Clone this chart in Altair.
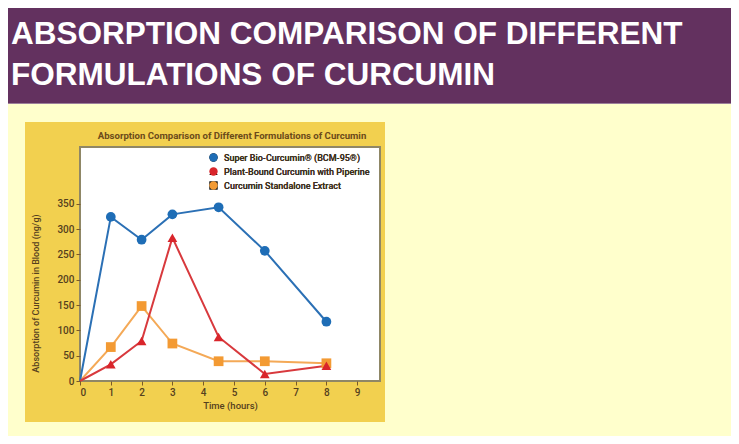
import altair as alt
import pandas as pd

# ---- data ----
time_hours = [0, 1, 2, 3, 4.5, 6, 8]
bcm95 = [0, 324, 279, 329, 343, 257, 117]
piperine = [0, 33, 79, 283, 87, 14, 30]
standalone = [0, 67, 148, 74, 39, 39, 35]

series_names = [
    "Super Bio-Curcumin® (BCM-95®)",
    "Plant-Bound Curcumin with Piperine",
    "Curcumin Standalone Extract",
]
marker_colors = ["#1E6DB6", "#D9252B", "#F39A33"]
line_colors = ["#2B70B5", "#D8393D", "#F4A957"]
shapes = ["circle", "triangle-up", "square"]

x_ticks = list(range(10))
y_ticks = [0, 50, 100, 150, 200, 250, 300, 350]

page_title = ["ABSORPTION COMPARISON OF DIFFERENT", "FORMULATIONS OF CURCUMIN"]
chart_title = "Absorption Comparison of Different Formulations of Curcumin"
x_title = "Time (hours)"
y_title = "Absorption of Curcumin in Blood (ng/g)"

rows = []
# drawing order: standalone first, then BCM-95, then piperine on top
for idx in [2, 0, 1]:
    name = series_names[idx]
    vals = [bcm95, piperine, standalone][idx]
    for t, v in zip(time_hours, vals):
        rows.append({"series": name, "time": t, "value": v})
df = pd.DataFrame(rows)

NARROW = "Roboto, sans-serif"
BROWN = "#55401E"
one = alt.Data(values=[{"k": 1}])

x_enc = alt.X(
    "time:Q",
    scale=alt.Scale(domain=[0, 9.74], nice=False, zero=True),
    axis=alt.Axis(
        values=x_ticks, domain=False, grid=False, tickSize=4, tickColor="#7A5A28",
        labelColor=BROWN, labelFont=NARROW, labelFontSize=10, labelFontWeight=500,
        labelPadding=2,
        title=x_title, titleFont=NARROW, titleFontSize=9.5, titleFontWeight=500,
        titleColor=BROWN, titlePadding=3, zindex=1,
    ),
)
y_enc = alt.Y(
    "value:Q",
    scale=alt.Scale(domain=[0, 462], nice=False, zero=True),
    axis=alt.Axis(
        values=y_ticks, domain=False, grid=False, tickSize=4, tickColor="#7A5A28",
        labelColor=BROWN, labelFont=NARROW, labelFontSize=10, labelFontWeight=500,
        labelPadding=2,
        title=y_title, titleFont=NARROW, titleFontSize=9, titleFontWeight=500,
        titleColor=BROWN, titleAngle=270, titleX=-45, titleY=146, titleAlign="center",
        titleBaseline="middle", zindex=1,
    ),
)

header = alt.Chart(one).mark_rect(color="#63315F").encode(
    x=alt.value(-80), x2=alt.value(660), y=alt.value(-142), y2=alt.value(-44)
)
header_line = alt.Chart(one).mark_rect(color="#9C7F9A").encode(
    x=alt.value(-80), x2=alt.value(660), y=alt.value(-44), y2=alt.value(-43)
)
header_text = alt.Chart(alt.Data(values=[{"t": page_title}])).mark_text(
    align="left", baseline="alphabetic", font="Liberation Sans", fontWeight="bold",
    fontSize=31.5, color="white", lineHeight=41,
).encode(text="t:N", x=alt.value(-69), y=alt.value(-103))

gold = alt.Chart(one).mark_rect(color="#F2D04F").encode(
    x=alt.value(-55), x2=alt.value(305), y=alt.value(-25), y2=alt.value(275)
)
plot_bg = alt.Chart(one).mark_rect(color="white", stroke="#8F8766", strokeWidth=2).encode(
    x=alt.value(0), x2=alt.value(300), y=alt.value(0), y2=alt.value(234)
)
inner_title = alt.Chart(alt.Data(values=[{"t": chart_title}])).mark_text(
    font=NARROW, fontSize=9.6, fontWeight="bold", color="#6B4A1A",
    align="center", baseline="middle",
).encode(text="t:N", x=alt.value(152), y=alt.value(-11.5))

lines = alt.Chart(df).mark_line(strokeWidth=2).encode(
    x=x_enc, y=y_enc,
    color=alt.Color("series:N", scale=alt.Scale(domain=series_names, range=line_colors), legend=None),
)

legend = alt.Legend(
    title=None, orient="none", legendX=129, legendY=6, padding=0,
    symbolSize=70, labelFont=NARROW, labelFontSize=9, labelFontWeight=500,
    labelColor="#3E3020", labelOffset=6, rowPadding=4, symbolStrokeWidth=0,
    labelLimit=300, zindex=1,
)
points = alt.Chart(df).transform_filter("datum.time > 0").mark_point(
    filled=True, opacity=1, size=95
).encode(
    x=x_enc, y=y_enc,
    color=alt.Color("series:N", scale=alt.Scale(domain=series_names, range=marker_colors), legend=legend),
    shape=alt.Shape("series:N", scale=alt.Scale(domain=series_names, range=shapes), legend=legend),
)

chart = alt.layer(
    header, header_line, header_text, gold, plot_bg, inner_title, lines, points
).resolve_scale(color="independent").properties(
    width=300, height=234,
    padding={"left": 72, "top": 139, "right": 351, "bottom": 55},
    autosize=alt.AutoSizeParams(type="none"),
).configure(background="#FFFFCC").configure_view(stroke=None)

chart.save("out.html", embed_options={"renderer": "svg", "actions": False})
